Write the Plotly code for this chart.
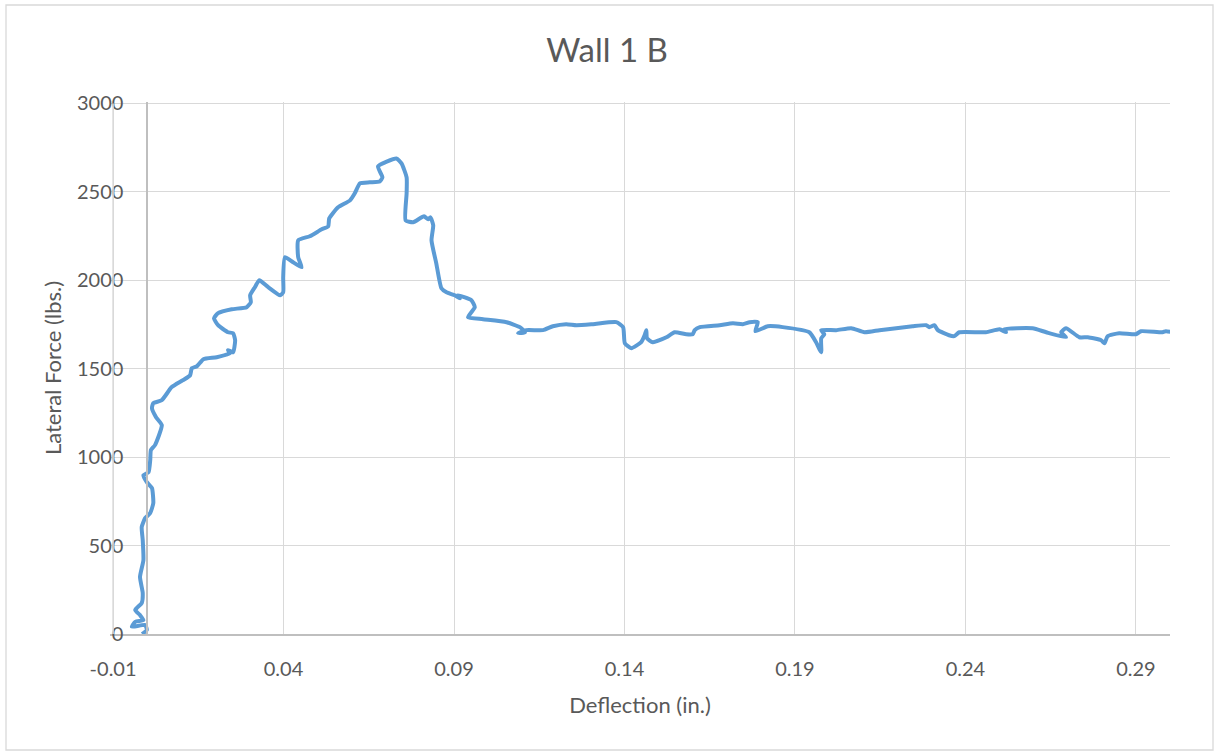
import plotly.graph_objects as go

# Deflection (in.) and lateral force (lbs.)
deflection = [
    -0.0015, -0.0001, -0.0006, -0.0045, -0.0035, -0.0011, -0.0021, -0.0035, -0.0016, -0.0013,
    -0.0021, -0.0011, -0.0013, -0.0016, -0.0006, 0.0009, 0.0018, 0.0014, -0.0001, -0.0011,
    0.0004, 0.0009, 0.0011, 0.0023, 0.0043, 0.0026, 0.0014, 0.0018, 0.0043, 0.0072,
    0.0105, 0.0126, 0.0131, 0.0146, 0.0165, 0.0204, 0.0243, 0.0237, 0.0252, 0.0258,
    0.0252, 0.0237, 0.0208, 0.0196, 0.0208, 0.0248, 0.0292, 0.0304, 0.0302, 0.0316,
    0.0329, 0.0355, 0.0390, 0.0399, 0.0399, 0.0404, 0.0428, 0.0453, 0.0443, 0.0443,
    0.0477, 0.0512, 0.0531, 0.0534, 0.0560, 0.0595, 0.0609, 0.0624, 0.0653, 0.0682,
    0.0690, 0.0677, 0.0731, 0.0746, 0.0761, 0.0761, 0.0758, 0.0780, 0.0812, 0.0824,
    0.0831, 0.0839, 0.0834, 0.0848, 0.0863, 0.0878, 0.0902, 0.0917, 0.0911, 0.0951,
    0.0961, 0.0941, 0.0985, 0.1054, 0.1093, 0.1108, 0.1088, 0.1112, 0.1161, 0.1190,
    0.1229, 0.1259, 0.1308, 0.1376, 0.1396, 0.1401, 0.1420, 0.1449, 0.1459, 0.1464,
    0.1466, 0.1483, 0.1523, 0.1547, 0.1581, 0.1600, 0.1606, 0.1621, 0.1679, 0.1718,
    0.1747, 0.1767, 0.1791, 0.1784, 0.1820, 0.1864, 0.1942, 0.1962, 0.1977, 0.1977,
    0.1986, 0.1977, 0.2021, 0.2065, 0.2104, 0.2148, 0.2197, 0.2245, 0.2285, 0.2294,
    0.2309, 0.2319, 0.2352, 0.2367, 0.2382, 0.2460, 0.2500, 0.2519, 0.2514, 0.2597,
    0.2637, 0.2695, 0.2681, 0.2695, 0.2734, 0.2759, 0.2798, 0.2808, 0.2817, 0.2851,
    0.2900, 0.2915, 0.2978, 0.2988, 0.3007,
]
force = [
    0, 23, 51, 41, 69, 79, 107, 136, 175, 232,
    322, 418, 531, 605, 655, 684, 740, 825, 859, 898,
    915, 983, 1040, 1068, 1181, 1226, 1277, 1305, 1322, 1396,
    1435, 1463, 1503, 1514, 1554, 1565, 1588, 1605, 1593, 1661,
    1701, 1706, 1746, 1785, 1814, 1836, 1848, 1876, 1915, 1961,
    2000, 1961, 1915, 1932, 2017, 2130, 2102, 2074, 2130, 2226,
    2249, 2288, 2305, 2350, 2413, 2452, 2492, 2548, 2554, 2559,
    2582, 2644, 2689, 2661, 2582, 2492, 2339, 2328, 2362, 2345,
    2356, 2311, 2226, 2096, 1955, 1932, 1915, 1898, 1915, 1887,
    1848, 1791, 1780, 1763, 1735, 1706, 1701, 1718, 1718, 1740,
    1752, 1746, 1752, 1763, 1735, 1644, 1616, 1650, 1689, 1718,
    1672, 1650, 1678, 1706, 1695, 1695, 1718, 1735, 1746, 1757,
    1752, 1763, 1763, 1712, 1740, 1735, 1706, 1650, 1593, 1672,
    1695, 1718, 1718, 1729, 1706, 1718, 1729, 1740, 1746, 1735,
    1746, 1718, 1689, 1684, 1706, 1706, 1723, 1706, 1723, 1729,
    1706, 1678, 1706, 1729, 1678, 1678, 1661, 1644, 1684, 1701,
    1695, 1712, 1706, 1712, 1706,
]

x_tick_vals = [-0.01, 0.04, 0.09, 0.14, 0.19, 0.24, 0.29]
x_tick_text = ["-0.01", "0.04", "0.09", "0.14", "0.19", "0.24", "0.29"]
y_tick_vals = [0, 500, 1000, 1500, 2000, 2500, 3000]
y_tick_text = ["0", "500", "1000", "1500", "2000", "2500", "3000"]

x_range = [-0.0109, 0.30]
y_range = [0, 3008]

FONT = "Lato"
TXT = "#595959"
GRID = "#d9d9d9"
AXIS = "#bfbfbf"

fig = go.Figure()
fig.add_trace(go.Scatter(
    x=deflection, y=force, mode="lines",
    line=dict(color="#5b9bd5", width=4, shape="spline", smoothing=0.5),
    showlegend=False, hoverinfo="skip",
))

W, H = 1214, 751
ml, mr, mt, mb = 110, 44, 102, 117
pw, ph = W - ml - mr, H - mt - mb

edge_x = (x_tick_vals[0] - x_range[0]) / (x_range[1] - x_range[0])
edge_y = (y_tick_vals[-1] - y_range[0]) / (y_range[1] - y_range[0])

fig.update_layout(
    width=W, height=H,
    margin=dict(l=ml, r=mr, t=mt, b=mb, pad=0),
    paper_bgcolor="white", plot_bgcolor="rgba(0,0,0,0)",
    font=dict(family=FONT, color=TXT),
    title=dict(text="Wall 1 B", x=0.5, xanchor="center", y=1 - 50 / H, yanchor="middle",
               xref="container", yref="container", font=dict(size=33, color=TXT, family=FONT)),
    xaxis=dict(
        range=x_range, tickvals=x_tick_vals, ticktext=x_tick_text,
        showgrid=True, gridcolor=GRID, gridwidth=1.3,
        zeroline=False, showline=True, linecolor=AXIS, linewidth=1.5,
        ticks="outside", ticklen=16, tickcolor="rgba(0,0,0,0)",
        tickfont=dict(size=20, color=TXT, family=FONT),
        title=dict(text="Deflection (in.)", font=dict(size=22, color=TXT, family=FONT), standoff=19),
    ),
    yaxis=dict(
        range=y_range, tickvals=y_tick_vals, ticktext=y_tick_text,
        showgrid=True, gridcolor=GRID, gridwidth=1.3,
        zeroline=False, showline=True, linecolor=AXIS, linewidth=1.5,
        anchor="free", position=(0 - x_range[0]) / (x_range[1] - x_range[0]),
        ticks="outside", ticklen=19, tickcolor="rgba(0,0,0,0)",
        tickfont=dict(size=20, color=TXT, family=FONT),
        title=dict(text="Lateral Force (lbs.)", font=dict(size=22, color=TXT, family=FONT), standoff=8),
    ),
    shapes=[
        dict(type="rect", xref="paper", yref="paper",
             x0=(6 - ml) / pw, x1=(1213 - ml) / pw,
             y0=(H - mb - 750) / ph, y1=(H - mb - 5) / ph,
             line=dict(color="#d9d9d9", width=1.3), fillcolor="rgba(0,0,0,0)", layer="below"),
        dict(type="line", xref="paper", yref="paper", x0=edge_x, x1=edge_x, y0=0, y1=edge_y,
             line=dict(color=GRID, width=1.5), layer="above"),
    ],
)

fig.write_html(
    "out.html",
    config={"displayModeBar": False},
    post_script="document.body.style.margin='0';document.body.style.overflow='hidden';",
)
